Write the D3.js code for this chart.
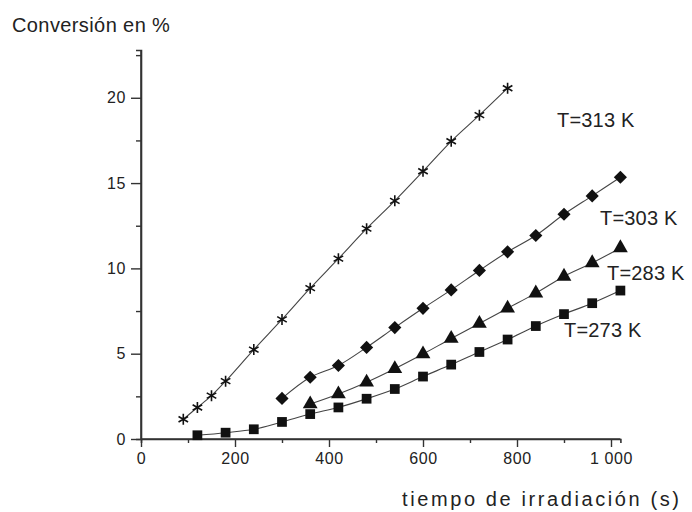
<!DOCTYPE html>
<html>
<head>
<meta charset="utf-8">
<script src="https://cdn.jsdelivr.net/npm/d3@7"></script>
<style>
  body { margin: 0; background: #fff; }
  text { font-family: "Liberation Sans", Arial, sans-serif; fill: #222; }
</style>
</head>
<body>
<div id="grafico"></div>
<script>
// datos: tiempo (s) y conversión (%)
const t313 = [90, 120, 150, 180, 240, 300, 360, 420, 480, 540, 600, 660, 720, 780];
const c313 = [1.16, 1.85, 2.54, 3.39, 5.24, 7.01, 8.84, 10.57, 12.33, 13.96, 15.69, 17.45, 18.98, 20.56];

const t303 = [300, 360, 420, 480, 540, 600, 660, 720, 780, 840, 900, 960, 1020];
const c303 = [2.38, 3.62, 4.31, 5.37, 6.53, 7.66, 8.74, 9.88, 10.97, 11.93, 13.17, 14.25, 15.34];

const t283 = [360, 420, 480, 540, 600, 660, 720, 780, 840, 900, 960, 1020];
const c283 = [2.05, 2.64, 3.33, 4.12, 4.98, 5.89, 6.77, 7.66, 8.55, 9.53, 10.32, 11.2];

const t273 = [120, 180, 240, 300, 360, 420, 480, 540, 600, 660, 720, 780, 840, 900, 960, 1020];
const c273 = [0.22, 0.37, 0.57, 1.0, 1.46, 1.85, 2.36, 2.93, 3.66, 4.36, 5.1, 5.83, 6.62, 7.32, 7.96, 8.7];

const etiquetas = ["T=313 K", "T=303 K", "T=283 K", "T=273 K"];
const xTicks = [0, 200, 400, 600, 800, 1000];
const yTicks = [0, 5, 10, 15, 20];

const width = 692;
const height = 512;

const svg = d3.select("#grafico")
              .append("svg")
              .attr("width", width)
              .attr("height", height);

const xScale = d3.scaleLinear()
                 .domain([0, 1020])
                 .range([141, 620.4]);

const yScale = d3.scaleLinear()
                 .domain([0, 22.8])
                 .range([439, 50]);

// ejes
const xAxisCall = d3.axisBottom(xScale)
                    .tickValues(xTicks)
                    .tickSize(8)
                    .tickPadding(6)
                    .tickFormat(d => d === 1000 ? "1 000" : d);

const xMinor = d3.axisBottom(xScale)
                 .tickValues([100, 300, 500, 700, 900])
                 .tickSize(4)
                 .tickFormat("");

const yAxisCall = d3.axisLeft(yScale)
                    .tickValues(yTicks)
                    .tickSize(10)
                    .tickPadding(5);

const yMinor = d3.axisLeft(yScale)
                 .tickValues([2.5, 7.5, 12.5, 17.5, 22.5])
                 .tickSize(5)
                 .tickFormat("");

function estilo(g) {
    g.select(".domain").attr("stroke", "#333").attr("stroke-width", 1.6);
    g.selectAll(".tick line").attr("stroke", "#333").attr("stroke-width", 1.4);
    g.selectAll(".tick text").attr("font-size", "16px").attr("fill", "#222")
     .attr("letter-spacing", "0.6px")
     .attr("font-family", "'Liberation Sans', Arial, sans-serif");
}

svg.append("g").attr("transform", `translate(0, ${yScale(0)})`).call(xMinor).call(estilo);
svg.append("g").attr("transform", `translate(0, ${yScale(0)})`).call(xAxisCall).call(estilo)
   .select(".domain").attr("d", `M${xScale(0)},0H${xScale(1020)}`);
svg.append("g").attr("transform", `translate(${xScale(0)}, 0)`).call(yMinor).call(estilo);
svg.append("g").attr("transform", `translate(${xScale(0)}, 0)`).call(yAxisCall).call(estilo)
   .select(".domain").attr("d", `M0,${yScale(22.8)}V${yScale(0)}`);

// series
const series = [
    { t: t313, c: c313, simbolo: "star" },
    { t: t303, c: c303, simbolo: "diamond" },
    { t: t283, c: c283, simbolo: "triangle" },
    { t: t273, c: c273, simbolo: "square" }
];

const linea = d3.line()
                .x(d => xScale(d[0]))
                .y(d => yScale(d[1]))
                .curve(d3.curveCatmullRom);

const simbolos = {
    star: d3.symbol().type(d3.symbolAsterisk).size(85),
    diamond: d3.symbol().type(d3.symbolDiamond2).size(110),
    triangle: d3.symbol().type(d3.symbolTriangle).size(95),
    square: d3.symbol().type(d3.symbolSquare).size(95)
};

series.forEach(s => {
    const pts = s.t.map((t, i) => [t, s.c[i]]);

    svg.append("path")
       .datum(pts)
       .attr("fill", "none")
       .attr("stroke", "#444")
       .attr("stroke-width", 1.1)
       .attr("d", linea);

    svg.selectAll(null)
       .data(pts)
       .join("path")
       .attr("transform", d => `translate(${xScale(d[0])}, ${yScale(d[1])})`)
       .attr("d", simbolos[s.simbolo])
       .attr("fill", s.simbolo === "star" ? "none" : "#111")
       .attr("stroke", "#111")
       .attr("stroke-width", s.simbolo === "star" ? 1.6 : 0);
});

// etiquetas de temperatura
const posEtiquetas = [[557, 127], [600, 225], [607, 280], [564, 337]];
svg.selectAll(".etq")
   .data(etiquetas)
   .join("text")
   .attr("class", "etq")
   .attr("x", (d, i) => posEtiquetas[i][0])
   .attr("y", (d, i) => posEtiquetas[i][1])
   .attr("font-size", "20px")
   .attr("letter-spacing", "0.2px")
   .text(d => d);

// títulos
svg.append("text")
   .attr("x", 12)
   .attr("y", 32)
   .attr("font-size", "20px")
   .attr("letter-spacing", "0.4px")
   .text("Conversión en %");

svg.append("text")
   .attr("x", 402)
   .attr("y", 506)
   .attr("font-size", "20px")
   .attr("letter-spacing", "2.6px")
   .text("tiempo de irradiación (s)");
</script>
</body>
</html>
